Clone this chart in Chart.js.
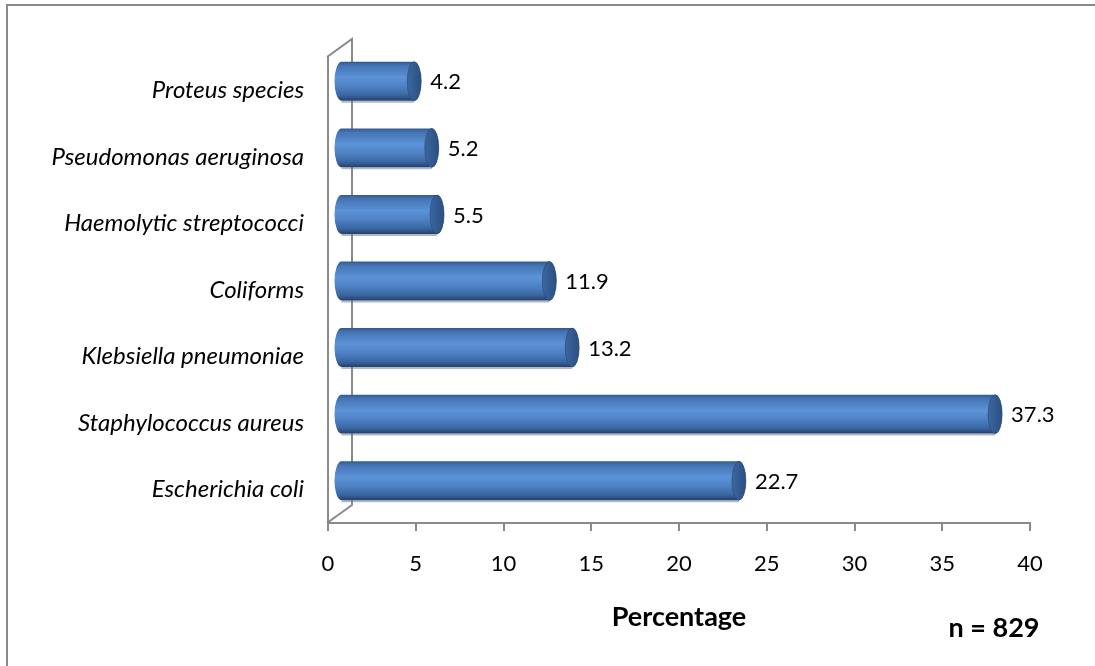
<!DOCTYPE html>
<html>
<head>
<meta charset="utf-8">
<script src="https://cdn.jsdelivr.net/npm/chart.js@4/dist/chart.umd.min.js"></script>
<style>
  html, body { margin: 0; padding: 0; background: #ffffff; }
  #wrap { width: 1095px; height: 666px; }
</style>
</head>
<body>
<div id="wrap"><canvas id="c" width="1095" height="666"></canvas></div>
<script>
// Isolated organisms, share of all isolates (%)
const organisms = [
  'Proteus species',
  'Pseudomonas aeruginosa',
  'Haemolytic streptococci',
  'Coliforms',
  'Klebsiella pneumoniae',
  'Staphylococcus aureus',
  'Escherichia coli'
];
const percentages = [4.2, 5.2, 5.5, 11.9, 13.2, 37.3, 22.7];
const axisTitle = 'Percentage';
const sampleNote = 'n = 829';

const FONT = 'Lato, "Open Sans", sans-serif';
const GREY = '#8a8a8a';
const DEPTH_X = 25, DEPTH_Y = -18;     // back-wall offset of the 3D box
const MID_X = DEPTH_X / 2, MID_Y = DEPTH_Y / 2;

// Frame, 3D wall outline, cylinders, value labels and the sample-size note
const cylinderPlugin = {
  id: 'cylinders',
  beforeDraw(chart) {
    const ctx = chart.ctx;
    ctx.save();
    ctx.fillStyle = '#ffffff';
    ctx.fillRect(0, 0, chart.width, chart.height);
    ctx.strokeStyle = GREY;
    ctx.lineWidth = 2;
    ctx.beginPath();
    ctx.moveTo(7, chart.height);
    ctx.lineTo(7, 5);
    ctx.lineTo(chart.width, 5);
    ctx.stroke();
    ctx.restore();
  },
  beforeDatasetsDraw(chart) {
    const {ctx, chartArea: a} = chart;
    ctx.save();
    ctx.strokeStyle = GREY;
    ctx.lineWidth = 2;
    ctx.beginPath();
    ctx.moveTo(a.left - 1, a.top);
    ctx.lineTo(a.left - 1 + DEPTH_X, a.top + DEPTH_Y);
    ctx.lineTo(a.left - 1 + DEPTH_X, a.bottom + DEPTH_Y);
    ctx.lineTo(a.left - 1, a.bottom);
    ctx.stroke();
    ctx.restore();
  },
  afterDatasetsDraw(chart) {
    const ctx = chart.ctx;
    const meta = chart.getDatasetMeta(0);
    const values = chart.data.datasets[0].data;
    meta.data.forEach((bar, i) => {
      const p = bar.getProps(['x', 'y', 'base', 'height'], true);
      const x0 = p.base + MID_X;
      const x1 = p.x + MID_X;
      const cy = p.y + MID_Y;
      const h = p.height;
      const ry = h / 2;
      const rx = 7;
      const top = cy - ry, bottom = cy + ry;

      ctx.save();
      // soft shadow under the cylinder
      ctx.beginPath();
      ctx.moveTo(x0, bottom + 1);
      ctx.lineTo(x1, bottom + 1);
      ctx.strokeStyle = 'rgba(110,125,150,0.55)';
      ctx.lineWidth = 2;
      ctx.stroke();

      // cylinder body
      const g = ctx.createLinearGradient(0, top, 0, bottom);
      g.addColorStop(0, '#34598d');
      g.addColorStop(0.1, '#4474b3');
      g.addColorStop(0.4, '#5c92d8');
      g.addColorStop(0.62, '#4f83c6');
      g.addColorStop(0.86, '#3a66a1');
      g.addColorStop(1, '#253f6a');
      ctx.beginPath();
      ctx.ellipse(x0, cy, rx, ry, 0, Math.PI / 2, Math.PI * 1.5);
      ctx.lineTo(x1, top);
      ctx.ellipse(x1, cy, rx, ry, 0, -Math.PI / 2, Math.PI / 2);
      ctx.closePath();
      ctx.fillStyle = g;
      ctx.fill();

      // end cap
      const cg = ctx.createLinearGradient(x1 - rx, 0, x1 + rx, 0);
      cg.addColorStop(0, '#3b67a0');
      cg.addColorStop(1, '#2b4f82');
      ctx.beginPath();
      ctx.ellipse(x1, cy, rx, ry, 0, 0, Math.PI * 2);
      ctx.fillStyle = cg;
      ctx.fill();
      ctx.strokeStyle = 'rgba(40,70,115,0.6)';
      ctx.lineWidth = 1;
      ctx.stroke();

      // value label
      ctx.fillStyle = '#000000';
      ctx.font = '22px ' + FONT;
      ctx.textAlign = 'left';
      ctx.textBaseline = 'middle';
      ctx.fillText(values[i].toFixed(1), x1 + rx + 9, cy + 1);
      ctx.restore();
    });

    ctx.save();
    ctx.fillStyle = '#000000';
    ctx.font = 'bold 27px ' + FONT;
    ctx.textAlign = 'center';
    ctx.textBaseline = 'middle';
    ctx.fillText(sampleNote, 994, 628);
    ctx.restore();
  }
};

new Chart(document.getElementById('c'), {
  type: 'bar',
  data: {
    labels: organisms,
    datasets: [{
      data: percentages,
      backgroundColor: 'rgba(0,0,0,0)',
      borderWidth: 0,
      categoryPercentage: 1,
      barPercentage: 0.585
    }]
  },
  options: {
    indexAxis: 'y',
    responsive: false,
    animation: false,
    devicePixelRatio: 1,
    layout: { padding: { left: 0, top: 57, right: 65, bottom: 0 } },
    plugins: { legend: { display: false }, tooltip: { enabled: false } },
    scales: {
      x: {
        min: 0,
        max: 40,
        afterFit(s) { s.height = 143; },
        ticks: {
          stepSize: 5,
          padding: 20,
          color: '#000000',
          font: { family: FONT, size: 22 }
        },
        grid: {
          drawOnChartArea: false,
          drawTicks: true,
          tickLength: 8,
          color: GREY,
          lineWidth: 2
        },
        border: { display: true, color: GREY, width: 2 },
        title: {
          display: true,
          text: axisTitle,
          color: '#000000',
          font: { family: FONT, size: 27, weight: 'bold' },
          padding: { top: 0, bottom: 33 }
        }
      },
      y: {
        afterFit(s) { s.width = 328; },
        ticks: {
          padding: 24,
          color: '#000000',
          font: { family: FONT, size: 24, style: 'italic' }
        },
        grid: { display: false, drawTicks: false },
        border: { display: true, color: GREY, width: 2 }
      }
    }
  },
  plugins: [cylinderPlugin]
});
</script>
</body>
</html>
